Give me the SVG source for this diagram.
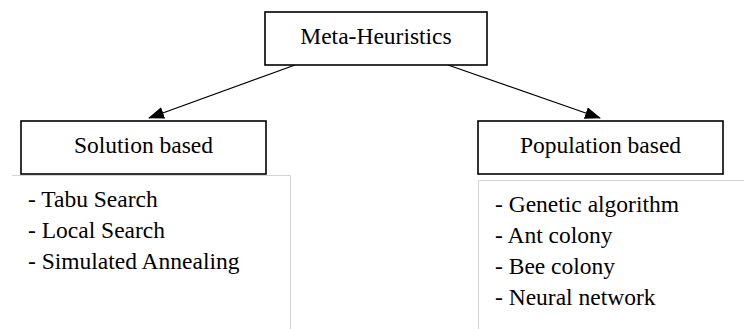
<svg xmlns="http://www.w3.org/2000/svg" width="744" height="329" viewBox="0 0 744 329" font-family="Liberation Serif, DejaVu Serif, serif">
  <style>
    .box { fill: #ffffff; stroke: #000000; stroke-width: 1.6; }
    .panel { fill: none; stroke: #d4d4d4; stroke-width: 1; }
    .label { font-size: 23.5px; fill: #000000; }
    .mid { text-anchor: middle; }
    .edge { stroke: #000000; stroke-width: 1.3; fill: none; marker-end: url(#head); }
  </style>
  <defs>
    <marker id="head" markerWidth="16" markerHeight="12" refX="15" refY="6" orient="auto" markerUnits="userSpaceOnUse">
      <path d="M0,0 L16,6 L0,12 Z" fill="#000000"/>
    </marker>
  </defs>
  <rect width="744" height="329" fill="#ffffff"/>

  <g id="connectors">
    <line class="edge" x1="295" y1="65" x2="149" y2="118"/>
    <line class="edge" x1="448" y1="65" x2="600" y2="118"/>
  </g>

  <g id="meta-heuristics">
    <rect class="box" x="265" y="12" width="222" height="53"/>
    <text class="label mid" x="376" y="44" font-family="Liberation Serif, serif">Meta-Heuristics</text>
  </g>

  <g id="solution-based">
    <rect class="box" x="21" y="121" width="245" height="53"/>
    <text class="label mid" x="143.5" y="153" font-family="Liberation Serif, serif">Solution based</text>
  </g>

  <g id="population-based">
    <rect class="box" x="478" y="121" width="245" height="53"/>
    <text class="label mid" x="600.5" y="153" font-family="Liberation Serif, serif">Population based</text>
  </g>

  <g id="solution-list" font-family="Liberation Serif, serif">
    <path class="panel" d="M12,175.5 H290.5 V329"/>
    <text class="label" x="28" y="207">- Tabu Search</text>
    <text class="label" x="28" y="238">- Local Search</text>
    <text class="label" x="28" y="269">- Simulated Annealing</text>
  </g>

  <g id="population-list" font-family="Liberation Serif, serif">
    <path class="panel" d="M478.5,329 V180.5 H744"/>
    <text class="label" x="495" y="212">- Genetic algorithm</text>
    <text class="label" x="495" y="243">- Ant colony</text>
    <text class="label" x="495" y="274">- Bee colony</text>
    <text class="label" x="495" y="305">- Neural network</text>
  </g>
</svg>
